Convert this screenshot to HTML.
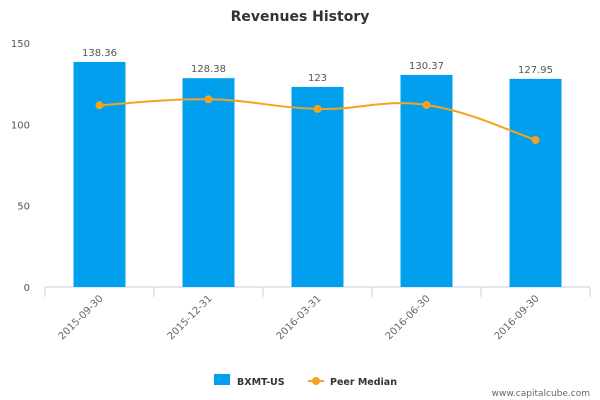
<!DOCTYPE html>
<html><head><meta charset="utf-8"><style>
body{margin:0;background:#fff;}
svg{display:block;font-family:"DejaVu Sans","Liberation Sans",sans-serif;}
</style></head><body>
<svg id="chart" width="600" height="400">
<text x="300" y="21" text-anchor="middle" font-size="14" font-weight="bold" fill="#333">Revenues History</text>
<g id="axes"></g><g id="bars"></g><g id="line"></g>
<g>
<rect x="214" y="374" width="16" height="11" fill="#039fef"/>
<text x="237" y="385" font-size="9.5" font-weight="bold" fill="#333">BXMT-US</text>
<line x1="308" y1="381" x2="324" y2="381" stroke="#f8a11d" stroke-width="2"/>
<circle cx="316" cy="381" r="4" fill="#f8a11d"/>
<text x="330" y="385" font-size="9.5" font-weight="bold" fill="#333">Peer Median</text>
</g>
<text x="590" y="396" text-anchor="end" font-size="9" fill="#666">www.capitalcube.com</text>
</svg>
<script>
const categories=["2015-09-30","2015-12-31","2016-03-31","2016-06-30","2016-09-30"];
const revenues=[138.36,128.38,123,130.37,127.95];
const revenueLabels=["138.36","128.38","123","130.37","127.95"];
const peerMedian=[111.7,115.4,109.5,111.9,90.4];
const yTicks=[0,50,100,150];
const NS="http://www.w3.org/2000/svg";
const x0=45,x1=590,y0=287,yTop=43,yMax=150;
const bw=(x1-x0)/categories.length;
const xs=i=>x0+bw*(i+0.5);
const ys=v=>y0-(v/yMax)*(y0-yTop);
function mk(t,a,p){const e=document.createElementNS(NS,t);for(const k in a)e.setAttribute(k,a[k]);p.appendChild(e);return e;}
const ax=document.getElementById('axes');
yTicks.forEach(t=>{const e=mk('text',{x:30,y:ys(t)+4,'text-anchor':'end','font-size':10,fill:'#555'},ax);e.textContent=t;

});
const al=mk('line',{x1:x0,y1:y0,x2:x1,y2:y0,stroke:'#c0d0e0'},ax);


for(let i=0;i<=categories.length;i++){const tk=mk('line',{x1:x0+bw*i,y1:y0,x2:x0+bw*i,y2:y0+10,stroke:'#c0d0e0'},ax);

}
categories.forEach((c,i)=>{const cx=xs(i)+4,cy=y0+12;const e=mk('text',{x:cx,y:cy,'text-anchor':'end','font-size':10,fill:'#666',transform:`rotate(-45 ${cx} ${cy})`},ax);e.textContent=c;

});
const bg=document.getElementById('bars');
revenues.forEach((v,i)=>{const r=mk('rect',{x:xs(i)-26,y:ys(v),width:52,height:y0-ys(v),fill:'#039fef'},bg);


const t=mk('text',{x:xs(i),y:ys(v)-6,'text-anchor':'middle','font-size':10,fill:'#555'},bg);t.textContent=revenueLabels[i];

});
const lg=document.getElementById('line');
const pts=peerMedian.map((v,i)=>[xs(i),ys(v)]);
let d=`M${pts[0][0]},${pts[0][1]}`;
for(let i=0;i<pts.length-1;i++){const p0=pts[Math.max(i-1,0)],p1=pts[i],p2=pts[i+1],p3=pts[Math.min(i+2,pts.length-1)];const k=0.2;
d+=` C${p1[0]+(p2[0]-p0[0])*k},${p1[1]+(p2[1]-p0[1])*k} ${p2[0]-(p3[0]-p1[0])*k},${p2[1]-(p3[1]-p1[1])*k} ${p2[0]},${p2[1]}`;}
const path=mk('path',{d:d,fill:'none',stroke:'#f8a11d','stroke-width':2},lg);


pts.forEach((p,i)=>{const c=mk('circle',{cx:p[0],cy:p[1],r:4,fill:'#f8a11d'},lg);

});
</script>
</body></html>
